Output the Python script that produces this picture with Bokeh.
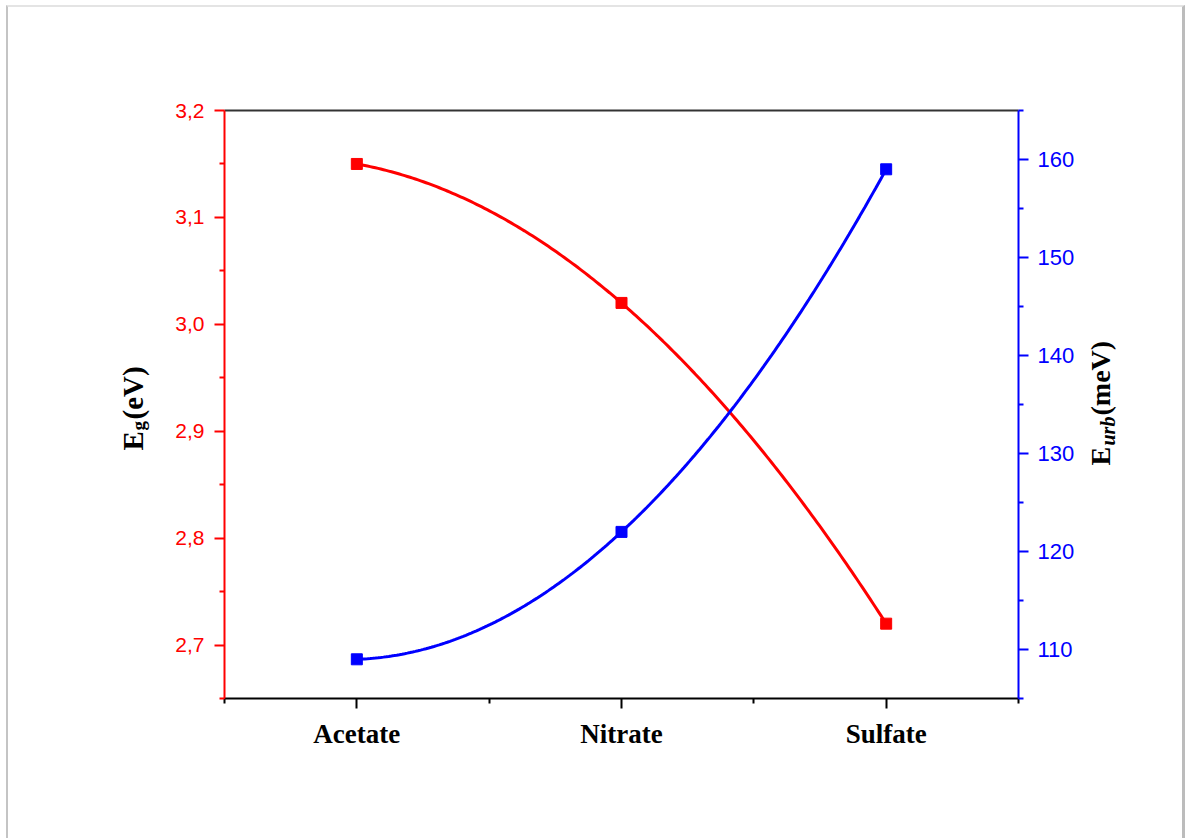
import numpy as np
from bokeh.plotting import figure
from bokeh.layouts import row
from bokeh.models import (Range1d, LinearAxis, FixedTicker, CustomJSTickFormatter, Label)
from bokeh.embed import file_html
from bokeh.resources import INLINE

categories = ["Acetate", "Nitrate", "Sulfate"]
eg_values = [3.15, 3.02, 2.72]
eurb_values = [109, 122, 159]
eg_ticks = [2.7, 2.8, 2.9, 3.0, 3.1, 3.2]
eg_minor = [2.65, 2.75, 2.85, 2.95, 3.05, 3.15]
eurb_ticks = [110, 120, 130, 140, 150, 160]
eurb_minor = [105, 115, 125, 135, 145, 155, 165]

RED = "#ff0000"
BLUE = "#0000ff"

OX, OY = 8, 7            # page offset of the content (margin + frame border)
H = 831
LEFT_W = 160
RIGHT_X = 1080
MAIN_W = RIGHT_X - OX - LEFT_W
RIGHT_W = 1182 - RIGHT_X
SHIFT = 13               # rotated-label anchor correction

x = [int(i) for i in range(len(categories))]
xs = np.linspace(0, len(categories) - 1, 200)
eg_curve = np.polyval(np.polyfit(x, eg_values, 2), xs)
eurb_curve = np.polyval(np.polyfit(x, eurb_values, 2), xs)


def blank_fig(w, h):
    f = figure(width=w, height=h, output_backend="svg", toolbar_location=None,
               x_range=Range1d(0, 1), y_range=Range1d(0, 1),
               x_axis_location=None, y_axis_location=None,
               min_border=0, min_border_left=0, min_border_right=0,
               min_border_top=0, min_border_bottom=0)
    f.outline_line_color = None
    f.xgrid.visible = False
    f.ygrid.visible = False
    return f


def piece(f, txt, xx, yy, size, style="bold"):
    f.add_layout(Label(x=xx, y=yy, x_units="canvas", y_units="canvas", text=txt,
                       angle=np.pi / 2, text_align="left", text_baseline="alphabetic",
                       text_font="Liberation Serif", text_font_style=style,
                       text_font_size=f"{size}px", text_color="black"))


# ---------------- main plot ----------------
p = figure(width=MAIN_W, height=H, output_backend="svg", toolbar_location=None,
           x_range=Range1d(-0.5, 2.5), y_range=Range1d(2.65, 3.2),
           min_border_left=224 - OX - LEFT_W, min_border_right=RIGHT_X - 1018,
           min_border_top=110 - OY, min_border_bottom=H - (698 - OY))
p.extra_y_ranges = {"urb": Range1d(105, 165)}
p.xgrid.visible = False
p.ygrid.visible = False
p.outline_line_color = None

p.line(xs, eg_curve, line_color=RED, line_width=3)
p.scatter(x, eg_values, marker="square", size=11, color=RED)
p.line(xs, eurb_curve, line_color=BLUE, line_width=3, y_range_name="urb")
p.scatter(x, eurb_values, marker="square", size=11, color=BLUE, y_range_name="urb")


def style_axis(ax, col, font, size, bold=False):
    ax.axis_line_color = col
    ax.axis_line_width = 2
    ax.major_tick_line_color = col
    ax.major_tick_line_width = 2
    ax.minor_tick_line_color = col
    ax.minor_tick_line_width = 2
    ax.major_tick_in = 0
    ax.major_tick_out = 10
    ax.minor_tick_in = 0
    ax.minor_tick_out = 5
    ax.major_label_text_font = font
    ax.major_label_text_font_size = size
    ax.major_label_text_color = col
    if bold:
        ax.major_label_text_font_style = "bold"


xa = p.xaxis[0]
xa.ticker = FixedTicker(ticks=x, minor_ticks=[-0.5, 0.5, 1.5, 2.5])
xa.major_label_overrides = {i: c for i, c in zip(x, categories)}
style_axis(xa, "black", "Liberation Serif", "27px", bold=True)
xa.major_label_standoff = 10

ya = p.yaxis[0]
ya.ticker = FixedTicker(ticks=eg_ticks, minor_ticks=eg_minor)
ya.formatter = CustomJSTickFormatter(code="return tick.toFixed(1).replace('.', ',');")
style_axis(ya, RED, "Liberation Sans", "21px")
ya.major_label_standoff = 10

ra = LinearAxis(y_range_name="urb",
                ticker=FixedTicker(ticks=eurb_ticks, minor_ticks=eurb_minor))
style_axis(ra, BLUE, "Liberation Sans", "22px")
ra.major_label_standoff = 9
p.add_layout(ra, "right")

ta = LinearAxis(ticker=FixedTicker(ticks=[]), axis_line_color="#333333",
                axis_line_width=2, major_tick_line_color=None,
                minor_tick_line_color=None, major_label_text_font_size="0px")
p.add_layout(ta, "above")

# ---------------- left title panel: E_g(eV) ----------------
lf = blank_fig(LEFT_W, H)
piece(lf, "E", 145 - OX - SHIFT, 450 - OY, 29)
piece(lf, "g", 151 - OX - SHIFT, 430 - OY, 19)
piece(lf, "(eV)", 145 - OX - SHIFT, 419 - OY, 29)

# ---------------- right title panel: E_urb(meV) ----------------
rf = blank_fig(RIGHT_W, H)
piece(rf, "E", 1113 - RIGHT_X - SHIFT, 465 - OY, 28)
piece(rf, "urb", 1120 - RIGHT_X - SHIFT, 445 - OY, 20, style="bold italic")
piece(rf, "(meV)", 1113 - RIGHT_X - SHIFT, 415 - OY, 28)

layout = row(lf, p, rf, spacing=0,
             styles={"margin-left": "6px", "margin-top": "5px",
                     "border-left": "2px solid #c4c4c4",
                     "border-top": "2px solid #e4e4e4",
                     "border-right": "3px solid #bcbcbc"})

open("out.html", "w").write(file_html(layout, INLINE))
